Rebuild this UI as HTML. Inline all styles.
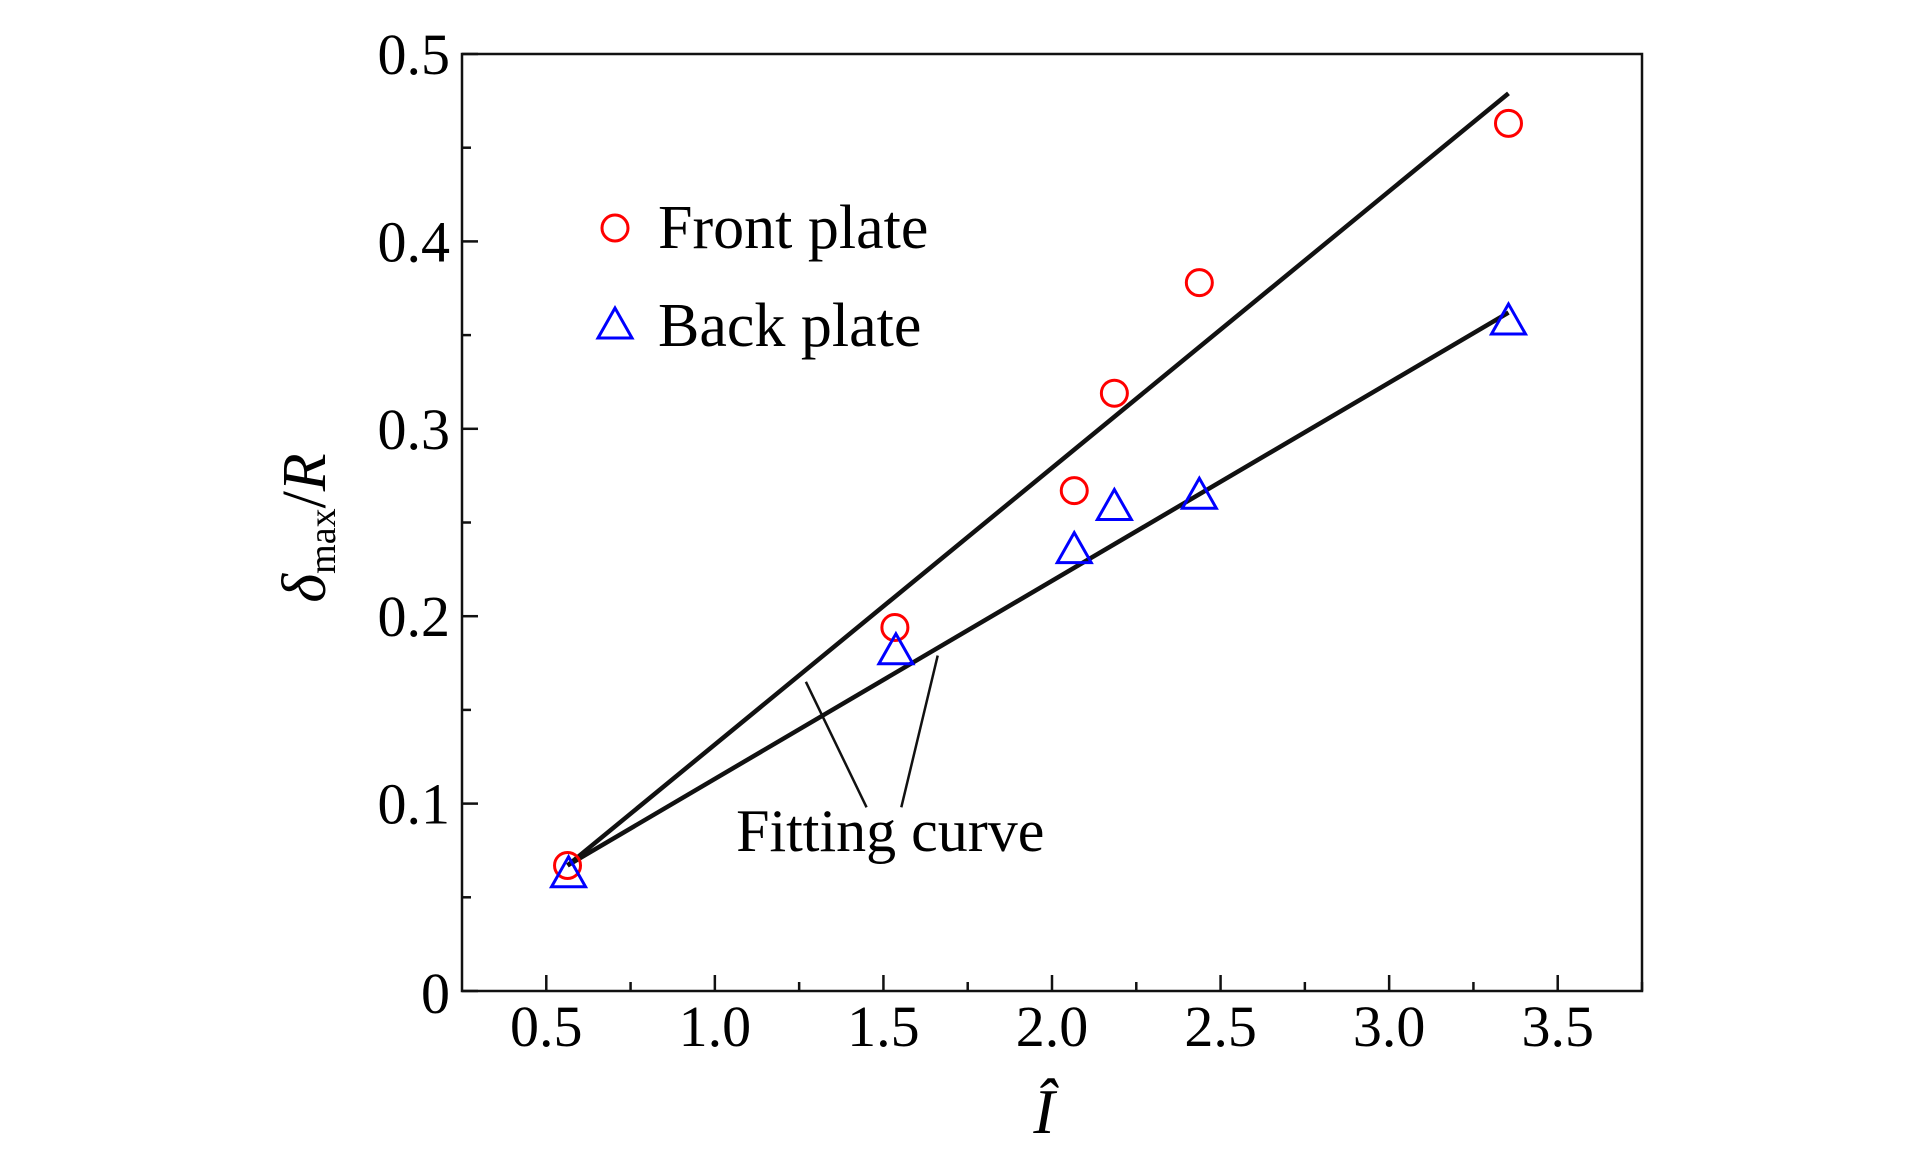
<!DOCTYPE html>
<html><head><meta charset="utf-8"><style>
html,body{margin:0;padding:0;background:#fff;}
svg{display:block;font-family:"Liberation Serif",serif;}
</style></head><body>
<svg id="chart" width="1923" height="1169" viewBox="0 0 1923 1169" xmlns="http://www.w3.org/2000/svg">
<g id="axes"></g>
<g id="marks"></g>
</svg>
<script>
const xTicks=[0.5,1.0,1.5,2.0,2.5,3.0,3.5];
const xTickLabels=["0.5","1.0","1.5","2.0","2.5","3.0","3.5"];
const yTicks=[0,0.1,0.2,0.3,0.4,0.5];
const yTickLabels=["0","0.1","0.2","0.3","0.4","0.5"];
const frontX=[0.563,1.534,2.066,2.185,2.437,3.354];
const frontY=[0.067,0.194,0.267,0.319,0.378,0.463];
const backX=[0.566,1.537,2.066,2.185,2.437,3.354];
const backY=[0.062,0.181,0.235,0.258,0.264,0.357];
const frontFitX=[0.563,3.354];
const frontFitY=[0.067,0.479];
const backFitX=[0.563,3.354];
const backFitY=[0.067,0.362];

const L=462,R=1642,T=54,B=991,xmin=0.25,xmax=3.75,ymin=0,ymax=0.5;
const sx=v=>L+(v-xmin)/(xmax-xmin)*(R-L);
const sy=v=>B-(v-ymin)/(ymax-ymin)*(B-T);
const NS="http://www.w3.org/2000/svg";
function mk(tag,attrs,parent,text){const e=document.createElementNS(NS,tag);for(const k in attrs)e.setAttribute(k,attrs[k]);if(text!==undefined)e.textContent=text;parent.appendChild(e);return e;}
const ax=document.getElementById('axes'),mg=document.getElementById('marks');

let fr=mk('rect',{x:L,y:T,width:R-L,height:B-T,fill:'none',stroke:'#111','stroke-width':2.5},ax);


xTicks.forEach((v,i)=>{
  let t=mk('line',{x1:sx(v),x2:sx(v),y1:B,y2:B-16,stroke:'#111','stroke-width':2.5},ax);
  
  
  let m=mk('line',{x1:sx(v+0.25),x2:sx(v+0.25),y1:B,y2:B-9,stroke:'#111','stroke-width':2.5},ax);
  
  
  let lb=mk('text',{x:sx(v),y:1046,'font-size':58,'text-anchor':'middle'},ax,xTickLabels[i]);
  
  
});
yTicks.forEach((v,i)=>{
  let t=mk('line',{x1:L,x2:L+16,y1:sy(v),y2:sy(v),stroke:'#111','stroke-width':2.5},ax);
  
  
  if(v<0.5){let m=mk('line',{x1:L,x2:L+9,y1:sy(v+0.05),y2:sy(v+0.05),stroke:'#111','stroke-width':2.5},ax);
  
  }
  let lb=mk('text',{x:450,y:v===0?1013:sy(v)+20,'font-size':58,'text-anchor':'end'},ax,yTickLabels[i]);
  
  
});
let yl=mk('text',{transform:'translate(325,528) rotate(-90)','font-size':62,'text-anchor':'middle'},ax);


mk('tspan',{'font-style':'italic'},yl,'δ');
mk('tspan',{'font-size':38,dy:10},yl,'max');
mk('tspan',{dy:-10},yl,'/');
mk('tspan',{'font-style':'italic'},yl,'R');
let xl=mk('text',{x:1044,y:1133,'font-size':64,'font-style':'italic','text-anchor':'middle'},ax,'Î');



function fit(xs,ys,name){let l=mk('line',{x1:sx(xs[0]),y1:sy(ys[0]),x2:sx(xs[1]),y2:sy(ys[1]),stroke:'#111','stroke-width':4.5},mg);

}
fit(frontFitX,frontFitY,'front-fit-line');
fit(backFitX,backFitY,'back-fit-line');
function tri(cx,cy,parent){return mk('polygon',{points:`${cx},${cy-18} ${cx-17},${cy+12} ${cx+17},${cy+12}`,fill:'none',stroke:'#0000ff','stroke-width':3},parent);}
frontX.forEach((v,i)=>{let c=mk('circle',{cx:sx(v),cy:sy(frontY[i]),r:13,fill:'none',stroke:'#ff0000','stroke-width':3},mg);

});
backX.forEach((v,i)=>{let p=tri(sx(v),sy(backY[i]),mg);

});

// annotation
let a1=mk('line',{x1:sx(1.27),y1:sy(0.165),x2:sx(1.45),y2:sy(0.098),stroke:'#111','stroke-width':2.5},mg);


let a2=mk('line',{x1:sx(1.661),y1:sy(0.179),x2:sx(1.553),y2:sy(0.098),stroke:'#111','stroke-width':2.5},mg);


let at=mk('text',{x:sx(1.063),y:851,'font-size':60},mg,'Fitting curve');



// legend
let lg=mk('g',{},mg);


let lc=mk('circle',{cx:615,cy:228,r:13,fill:'none',stroke:'#ff0000','stroke-width':3},lg);


let lt1=mk('text',{x:658,y:248,'font-size':62},lg,'Front plate');


let lt=tri(615,326,lg);


let lt2=mk('text',{x:658,y:346,'font-size':62},lg,'Back plate');


</script>
</body></html>
